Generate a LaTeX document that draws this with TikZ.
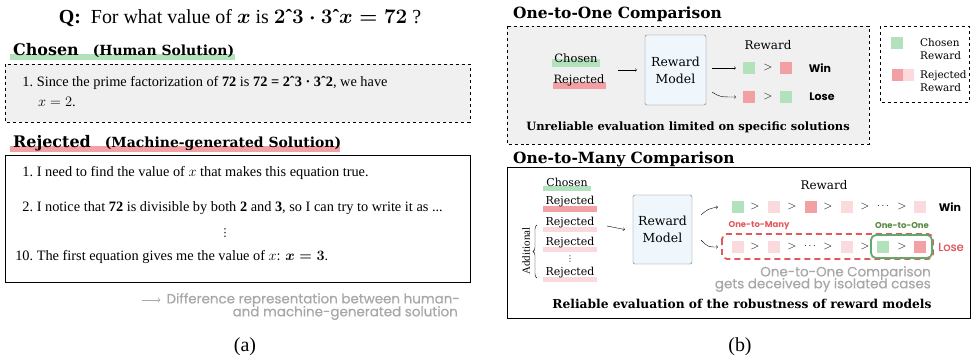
\documentclass[tikz,border=0pt]{standalone}
\usepackage{fontspec}
\setmainfont{Liberation Serif}
\newfontfamily\slab{DejaVu Serif}
\newfontfamily\dsans{DejaVu Sans}
\newfontfamily\geo{Poppins}
\newfontfamily\geom[FakeBold=0.7]{Poppins}
\usetikzlibrary{decorations.pathreplacing}

\definecolor{cG}{RGB}{178,226,188}
\definecolor{cR}{RGB}{243,160,164}
\definecolor{cP}{RGB}{251,218,221}
\definecolor{boxgray}{RGB}{240,240,240}
\definecolor{rmblue}{RGB}{239,247,253}
\definecolor{noteg}{RGB}{168,168,168}
\definecolor{loseR}{RGB}{226,88,92}
\definecolor{oneG}{RGB}{96,170,112}
\definecolor{oneGt}{RGB}{86,134,66}

\newcommand{\bmath}[1]{\mbox{\boldmath$#1$}}
\newcommand{\caret}{\mbox{\bfseries ˆ}}

\tikzset{
  sq/.style={minimum size=12bp, inner sep=0pt},
  gtsign/.style={font=\fontsize{12}{12}\selectfont, inner sep=0pt},
  rm/.style={draw=black!55, fill=rmblue, rounded corners=1.5bp, align=center,
    font=\slab\fontsize{12.5}{17}\selectfont},
  lbl/.style={font=\slab\fontsize{11}{13}\selectfont, inner sep=0pt},
  head/.style={font=\slab\bfseries\fontsize{16}{18}\selectfont, inner sep=0pt, anchor=base west},
  body/.style={font=\fontsize{14.4}{17}\selectfont, inner sep=0pt, anchor=west},
  vdot/.style={font=\dsans\fontsize{11}{11}\selectfont, inner sep=0pt},
  note/.style={font=\geom\fontsize{13.5}{14}\selectfont, text=noteg, inner sep=0pt},
}

\begin{document}
\begin{tikzpicture}[x=1bp, y=-1bp]
  \useasboundingbox (0,0) rectangle (972,360);

  % (a) chosen vs rejected
  \node (q) at (240,18) {\fontsize{20}{22}\selectfont\textbf{Q:}\ \ For what value of
    \bmath{x} is \bmath{2}\caret\bmath{3\cdot 3}\caret\bmath{x=72} ?};

  \fill[cG] (10,54) rectangle (235,60);
  \node[head] (chH) at (13,55) {Chosen\hspace{14bp}{\fontsize{14}{15}\selectfont(Human Solution)}};
  \draw[dashed, thick, fill=boxgray] (5,64) rectangle (470,122);
  \node[body] (ch1) at (15,83) {\makebox[18bp][r]{1.}\ Since the prime factorization of \textbf{72} is
    \textbf{72 = 2ˆ3 · 3ˆ2}, we have};
  \node[body] (ch2) at (38,102) {$x=2$.};

  \fill[cR] (10,146) rectangle (340,152);
  \node[head] (rjH) at (13,147) {Rejected\hspace{14bp}{\fontsize{14}{15}\selectfont(Machine-generated Solution)}};
  \draw[thick] (5,155) rectangle (470,282);
  \node[body] (rj1) at (15,173) {\makebox[18bp][r]{1.}\ I need to find the value of $x$ that makes this equation true.};
  \node[body] (rj2) at (15,208) {\makebox[18bp][r]{2.}\ I notice that \textbf{72} is divisible by both
    \textbf{2} and \textbf{3}, so I can try to write it as ...};
  \node[vdot] (rjdots) at (225,233) {⋮};
  \node[body] (rj10) at (15,257) {\makebox[18bp][r]{10.}\ The first equation gives me the value of $x$:
    \bmath{x=3}.};

  \node[note, anchor=east] (d1) at (460,300) {Difference representation between human-};
  \node[note, anchor=east] (d2) at (458,313) {and machine-generated solution};
  \coordinate (d0) at (142,300);
  \draw[->, noteg, thick] (d0) -- ([xshift=-6bp]d1.west);

  \node[font=\fontsize{20}{22}\selectfont] (capa) at (245,347) {(a)};

  % (b) one-to-one
  \node[head, font=\slab\bfseries\fontsize{15.5}{17}\selectfont] (t1) at (513,18) {One-to-One Comparison};
  \draw[dashed, thick, fill=boxgray] (507,26) rectangle (869,144);
  \draw[dashed, thick] (880,26) rectangle (969,102);

  \fill[cG] (552,59) rectangle (600,67);
  \fill[cR] (553,82) rectangle (606,89);
  \node[lbl, font=\slab\fontsize{11.5}{13}\selectfont] (c1) at (576,58) {Chosen};
  \node[lbl, font=\slab\fontsize{11.5}{13}\selectfont] (r1) at (579,80) {Rejected};
  \node[rm, minimum width=61bp, minimum height=70bp] (rm1) at (675.5,70) {Reward\\Model};
  \coordinate (in1) at (618,70);
  \draw[->] (in1) -- ([xshift=-8bp]rm1.west);
  \node[lbl, font=\slab\fontsize{12}{13}\selectfont] (rw1) at (768,45) {Reward};

  \node[sq, fill=cG] (aw1) at (749,68) {};
  \node[gtsign] (aw2) at (768,68) {$>$};
  \node[sq, fill=cR] (aw3) at (786,68) {};
  \node[font=\geo\bfseries\fontsize{11}{12}\selectfont] (win1) at (820,68) {Win};
  \node[sq, fill=cR] (al1) at (749,97) {};
  \node[gtsign] (al2) at (768,97) {$>$};
  \node[sq, fill=cG] (al3) at (786,97) {};
  \node[font=\geo\bfseries\fontsize{11}{12}\selectfont] (lose1) at (822,97) {Lose};

  \coordinate (o1) at (712,68);
  \coordinate (o2) at (712,92);
  \draw[->] (o1) -- ([xshift=-7bp]aw1.west);
  \draw[->] (o2) .. controls (720,97) .. ([xshift=-7bp]al1.west);

  \node[font=\slab\bfseries\fontsize{11.5}{13}\selectfont] (unrel) at (688,127)
    {Unreliable evaluation limited on specific solutions};

  % legend
  \node[sq, fill=cG] (kg) at (897,43) {};
  \node[lbl, anchor=west, align=left, font=\slab\fontsize{10.5}{12.5}\selectfont] (kgt) at (920,49) {Chosen\\Reward};
  \node[sq, fill=cR, minimum width=11bp] (kr) at (897.5,75) {};
  \node[sq, fill=cP, minimum width=11bp] (kp) at (908.5,75) {};
  \node[lbl, anchor=west, align=left, font=\slab\fontsize{10.5}{12.5}\selectfont] (krt) at (920,81) {Rejected\\Reward};

  % (b) one-to-many
  \node[head, font=\slab\bfseries\fontsize{15.5}{17}\selectfont] (t2) at (513,163) {One-to-Many Comparison};
  \draw[thick] (507,167) rectangle (970,318);

  \fill[cG] (543,186) rectangle (591,191);
  \fill[cR] (543,206) rectangle (597,212);
  \foreach \y in {227,247,277}
    \fill[cP] (543,\y) rectangle (597,\y+5);
  \node[lbl] (c2) at (567,182) {Chosen};
  \node[lbl] (r2) at (570,202) {Rejected};
  \node[lbl] (r3) at (570,223) {Rejected};
  \node[lbl] (r4) at (570,243) {Rejected};
  \node[vdot, font=\dsans\fontsize{8}{8}\selectfont] (rdots) at (570,259) {⋮};
  \node[lbl] (r5) at (570,273) {Rejected};
  \draw[decorate, decoration={brace, amplitude=4bp}] (537,278) -- (537,225);
  \node[lbl, rotate=90, font=\fontsize{11}{12}\selectfont] (addl) at (526,251) {Additional};

  \node[rm, minimum width=59bp, minimum height=69bp] (rm2) at (662.5,229.5) {Reward\\Model};
  \coordinate (in2) at (607,226);
  \draw[->] (in2) -- ([xshift=-8bp]rm2.west);
  \node[lbl, font=\slab\fontsize{12}{13}\selectfont] (rw2) at (824,185) {Reward};

  % win row
  \foreach \x/\c [count=\i] in {738/cG,774/cP,811/cR,847/cP,920/cP}
    \node[sq, fill=\c] (w\i) at (\x,207) {};
  \foreach \x [count=\i] in {755,792,828,865,902}
    \node[gtsign] (wg\i) at (\x,207) {$>$};
  \node[font=\fontsize{10}{12}\selectfont] (wdots) at (883,206) {$\cdots$};
  \node[font=\geo\bfseries\fontsize{11}{12}\selectfont] (win2) at (950,207) {Win};

  % lose row
  \foreach \x/\c [count=\i] in {738/cP,774/cP,847/cP,883/cG,920/cR}
    \node[sq, fill=\c] (l\i) at (\x,247) {};
  \foreach \x [count=\i] in {755,792,828,865,902}
    \node[gtsign] (lg\i) at (\x,247) {$>$};
  \node[font=\fontsize{10}{12}\selectfont] (ldots) at (810,246) {$\cdots$};
  \node[font=\geom\fontsize{11.5}{12}\selectfont, text=loseR] (lose2) at (951,247) {Lose};

  \draw[loseR, line width=1.8bp, dash pattern=on 6bp off 4bp, rounded corners=5bp] (722,234) rectangle (933,259);
  \draw[oneG, line width=1.8bp, rounded corners=5bp] (871,235) rectangle (932,258);
  \node[font=\geo\bfseries\fontsize{8.5}{10}\selectfont, text=loseR] (otm) at (759,226) {One-to-Many};
  \node[font=\geo\bfseries\fontsize{8.5}{10}\selectfont, text=oneGt] (oto) at (902,226) {One-to-One};

  \coordinate (p1) at (701,215);
  \coordinate (p2) at (701,240);
  \draw[->] (p1) .. controls (708,209) .. ([xshift=-14bp]w1.west);
  \draw[->] (p2) .. controls (708,247) .. ([xshift=-14bp]l1.west);

  \node[note, anchor=east] (g1) at (931,273) {One-to-One Comparison};
  \node[note, anchor=east] (g2) at (931,285) {gets deceived by isolated cases};

  \node[font=\slab\bfseries\fontsize{12.3}{14}\selectfont] (rel) at (742,304)
    {Reliable evaluation of the robustness of reward models};

  \node[font=\fontsize{20}{22}\selectfont] (capb) at (740,347) {(b)};
\end{tikzpicture}
\end{document}
